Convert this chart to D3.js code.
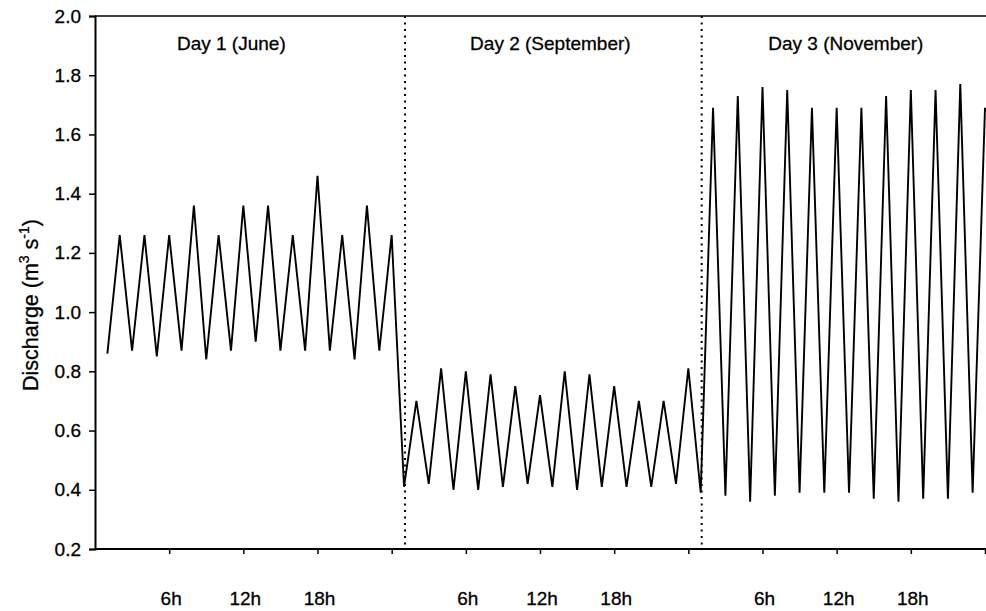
<!DOCTYPE html>
<html>
<head>
<meta charset="utf-8">
<script src="https://cdn.jsdelivr.net/npm/d3@7"></script>
<style>
  html, body { margin: 0; padding: 0; background: #fff; }
  svg text { font-family: "Liberation Sans", Arial, sans-serif; fill: #000; stroke: #000; stroke-width: 0.3px; }
</style>
</head>
<body>
<svg id="chart" width="986" height="611"></svg>
<script>
// ---- data (hourly discharge, m3 s-1) ----
const day1 = [0.86, 1.26, 0.87, 1.26, 0.85, 1.26, 0.87, 1.36, 0.84, 1.26, 0.87, 1.36,
              0.90, 1.36, 0.87, 1.26, 0.87, 1.46, 0.87, 1.26, 0.84, 1.36, 0.87, 1.26];
const day2 = [0.41, 0.70, 0.42, 0.81, 0.40, 0.80, 0.40, 0.79, 0.41, 0.75, 0.42, 0.72,
              0.41, 0.80, 0.40, 0.79, 0.41, 0.75, 0.41, 0.70, 0.41, 0.70, 0.42, 0.81];
const day3 = [0.39, 1.69, 0.38, 1.73, 0.36, 1.76, 0.38, 1.75, 0.39, 1.69, 0.39, 1.69,
              0.39, 1.69, 0.37, 1.73, 0.36, 1.75, 0.37, 1.75, 0.37, 1.77, 0.39, 1.69];
const dayNames = ["Day 1 (June)", "Day 2 (September)", "Day 3 (November)"];
const yTicks = [0.2, 0.4, 0.6, 0.8, 1.0, 1.2, 1.4, 1.6, 1.8, 2.0];
const xTickHours = [6, 12, 18, 24, 30, 36, 42, 48, 54, 60, 66, 72];
const xLabelHours = [6, 12, 18, 30, 36, 42, 54, 60, 66];
const xLabels = ["6h", "12h", "18h", "6h", "12h", "18h", "6h", "12h", "18h"];
const dayBreakHours = [25, 49];

(function () {
const FS = 19;
// ---- build series ----
const series = [];
[day1, day2, day3].forEach((arr, d) => {
  arr.forEach((v, i) => series.push({ hour: d * 24 + i + 1, value: v }));
});

const svg = d3.select("#chart");
const mLeft = 95, mRight = 985, mTop = 16, mBottom = 549;
const x = d3.scaleLinear().domain([0, 72]).range([mLeft, mRight]);
const y = d3.scaleLinear().domain([0.2, 2.0]).range([mBottom, mTop]);

// top frame line
svg.append("line")
  .attr("x1", x(0)).attr("x2", 986)
  .attr("y1", y(2.0)).attr("y2", y(2.0))
  .attr("stroke", "#000").attr("stroke-width", 1.5);

// y axis
const yAxis = svg.append("g")
  .attr("transform", `translate(${mLeft},0)`)
  .call(d3.axisLeft(y).tickValues(yTicks).tickSize(6).tickPadding(8).tickFormat(d3.format(".1f")));
yAxis.select(".domain").attr("stroke", "#000").attr("stroke-width", 2);
yAxis.selectAll(".tick line").attr("stroke", "#000").attr("stroke-width", 1.5);
yAxis.selectAll(".tick text").attr("font-size", FS).attr("font-family", "Liberation Sans, Arial, sans-serif");

// x axis
const xAxis = svg.append("g")
  .attr("transform", `translate(0,${mBottom})`)
  .call(d3.axisBottom(x).tickValues(xTickHours).tickSize(5).tickFormat(""));
xAxis.select(".domain").attr("stroke", "#000").attr("stroke-width", 2).attr("d", `M${mLeft},0H986`);
xAxis.selectAll(".tick line").attr("stroke", "#000").attr("stroke-width", 1.5);

// x labels
svg.append("g").selectAll("text")
  .data(xLabelHours)
  .join("text")
  .attr("x", d => x(d) + 2)
  .attr("y", 605)
  .attr("text-anchor", "middle")
  .attr("font-size", FS)
  .text((d, i) => xLabels[i]);

// dotted day separators
svg.append("g").selectAll("line")
  .data(dayBreakHours)
  .join("line")
  .attr("x1", d => x(d) + 1).attr("x2", d => x(d) + 1)
  .attr("y1", y(2.0)).attr("y2", mBottom)
  .attr("stroke", "#000").attr("stroke-width", 2)
  .attr("stroke-dasharray", "2,4.5");

// day labels
const dayCenters = [(x(0) + x(24)) / 2 - 12, (x(25) + x(49)) / 2 - 2, (x(49) + x(72)) / 2 + 3];
svg.append("g").selectAll("text")
  .data(dayNames)
  .join("text")
  .attr("x", (d, i) => dayCenters[i])
  .attr("y", 50)
  .attr("text-anchor", "middle")
  .attr("font-size", FS)
  .text(d => d);

// line
svg.append("path")
  .datum(series)
  .attr("fill", "none")
  .attr("stroke", "#000")
  .attr("stroke-width", 1.9)
  .attr("stroke-linejoin", "miter")
  .attr("d", d3.line().x(d => x(d.hour)).y(d => y(d.value)));

// y title
const yt = svg.append("text")
  .attr("transform", `translate(38,305) rotate(-90)`)
  .attr("text-anchor", "middle")
  .attr("font-size", 21.5);
yt.append("tspan").text("Discharge (m");
yt.append("tspan").attr("font-size", 14).attr("dy", -9).text("3");
yt.append("tspan").attr("dy", 9).text(" s");
yt.append("tspan").attr("font-size", 14).attr("dy", -9).text("-1");
yt.append("tspan").attr("dy", 9).text(")");
})();
</script>
</body>
</html>
